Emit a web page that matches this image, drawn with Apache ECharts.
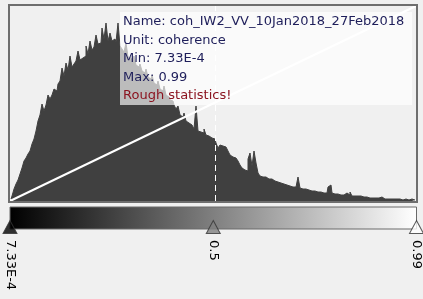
<!DOCTYPE html>
<html><head><meta charset="utf-8">
<script src="https://cdn.jsdelivr.net/npm/echarts@6/dist/echarts.min.js"></script>
<style>html,body{margin:0;padding:0;background:#f0f0f0;}#c{width:423px;height:299px;}</style>
</head><body><div id="c"></div>
<script>
// Histogram bin heights (relative counts), left (min) to right (max)
const binCounts = [
  2,5,12,17,21,27,33,40,43,47,50,57,62,70,80,86,97,90,96,106,
  102,106,112,110,117,120,133,125,138,131,145,134,137,140,150,141,143,145,155,147,
  160,151,154,166,157,158,173,162,178,160,168,160,162,159,178,155,152,149,158,144,
  143,140,145,136,134,137,130,128,132,124,122,126,118,116,120,112,110,115,106,104,
  101,100,96,92,95,86,84,88,80,78,76,74,72,95,70,69,68,72,66,65,
  63,61,62,58,53,56,55,54,52,50,46,44,43,42,40,36,33,31,30,42,
  48,35,50,38,28,25,24,24,23,22,22,21,20,19,18,18,17,17,16,15,
  15,14,14,13,24,13,12,12,11,11,10,10,10,9,9,9,8,8,8,14,
  16,8,7,7,7,6,6,8,8,6,9,5,5,5,4,5,4,4,4,3,
  4,3,3,3,3,4,3,2,2,3,2,2,2,2,2,2,1,2,1,1,
  2,1,1
];
const dataMin = 0.000733;
const dataMax = 0.99;
const sliderValues = [0.000733, 0.4954, 0.99];
const sliderLabels = ['7.33E-4', '0.5', '0.99'];
const sliderColors = ['#000000', '#808080', '#ffffff'];
const infoLines = ['Name: coh_IW2_VV_10Jan2018_27Feb2018', 'Unit: coherence', 'Min: 7.33E-4', 'Max: 0.99'];
const warningLine = 'Rough statistics!';

const chart = echarts.init(document.getElementById('c'), null, {renderer: 'canvas'});
const font = '"DejaVu Sans", sans-serif';

const option = {
  animation: false,
  backgroundColor: '#f0f0f0',
  grid: [
    {left: 10, top: 6, width: 406, height: 195},
    {left: 10, top: 207, width: 406.5, height: 22, show: true,
     backgroundColor: new echarts.graphic.LinearGradient(0, 0, 1, 0, [
       {offset: 0, color: '#000000'}, {offset: 1, color: '#ffffff'}]),
     borderColor: '#6a6a6a', borderWidth: 1}
  ],
  xAxis: [
    {type: 'category', gridIndex: 0, data: binCounts.map((_, i) => i), show: false, boundaryGap: true},
    {type: 'value', gridIndex: 0, min: dataMin, max: dataMax, show: false},
    {type: 'value', gridIndex: 1, min: dataMin, max: dataMax, show: false}
  ],
  yAxis: [
    {type: 'value', gridIndex: 0, min: 0, max: 195, show: false},
    {type: 'value', gridIndex: 0, min: 0, max: 1, show: false},
    {type: 'value', gridIndex: 1, min: 0, max: 1, show: false}
  ],
  series: [
    {type: 'line', xAxisIndex: 0, yAxisIndex: 0, data: binCounts, step: 'middle', symbol: 'none',
     lineStyle: {color: '#404040', width: 1}, areaStyle: {color: '#404040', opacity: 1},
     silent: true, z: 2},
    {type: 'line', xAxisIndex: 1, yAxisIndex: 1, data: [[dataMin, 0], [dataMax, 1]],
     symbol: 'none', lineStyle: {color: '#ffffff', width: 2}, silent: true, z: 3,
     markLine: {symbol: 'none', silent: true, label: {show: false},
       lineStyle: {color: '#ffffff', width: 1, type: [6, 4]},
       data: [{xAxis: sliderValues[1]}]}},
    {type: 'scatter', xAxisIndex: 2, yAxisIndex: 2, clip: false, silent: true, z: 5,
     symbol: 'triangle', symbolSize: [14, 13], symbolOffset: [0, -2],
     data: sliderValues.map((v, i) => ({value: [v, 0],
       itemStyle: {color: sliderColors[i], borderColor: '#333333', borderWidth: 1}}))}
  ]
};
chart.setOption(option);

const graphics = [];
// plot frame
graphics.push({type: 'rect', z: 100, shape: {x: 9, y: 5, width: 408, height: 197},
  style: {fill: 'none', stroke: '#6e6e6e', lineWidth: 2}, silent: true});
// info box
graphics.push({type: 'rect', z: 100, shape: {x: 120, y: 12, width: 292, height: 93},
  style: {fill: 'rgba(255,255,255,0.65)'}, silent: true});
infoLines.concat([warningLine]).forEach((t, i) => {
  graphics.push({type: 'text', z: 101, x: 123, y: 22 + i * 18.5, silent: true,
    style: {text: t, font: '13px ' + font, fill: i === 4 ? '#8b1420' : '#1e1e5a',
      verticalAlign: 'middle', align: 'left'}});
});
// slider labels
sliderValues.forEach((v, i) => {
  const p = chart.convertToPixel({xAxisIndex: 2, yAxisIndex: 2}, [v, 0]);
  graphics.push({type: 'text', x: p[0], y: 240, rotation: -Math.PI / 2, z: 101, silent: true,
    style: {text: sliderLabels[i], font: '13px ' + font, fill: '#000',
      align: 'left', verticalAlign: 'middle'}});
});
chart.setOption({graphic: graphics});
</script></body></html>
